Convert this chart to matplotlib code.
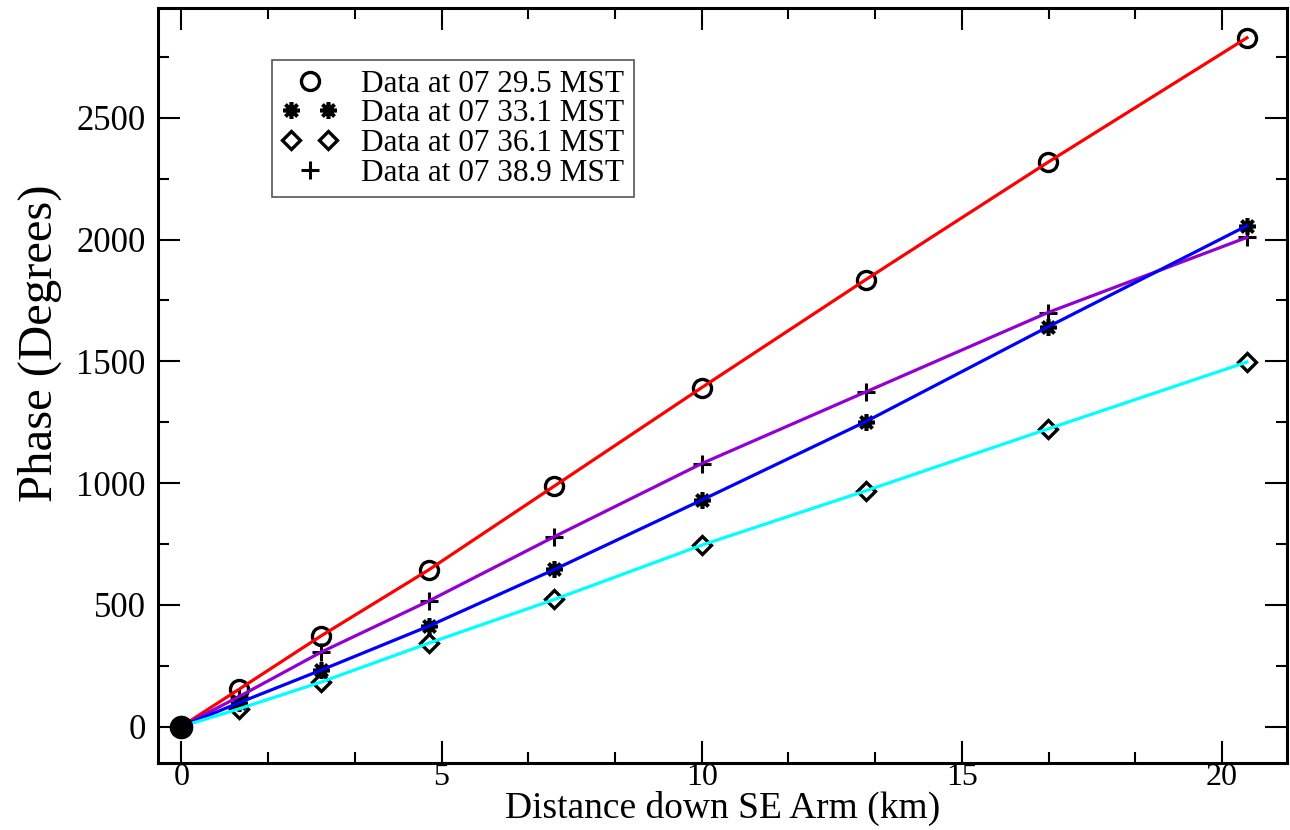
import matplotlib
matplotlib.use('Agg')
import matplotlib.pyplot as plt
from matplotlib.legend_handler import HandlerLine2D
from matplotlib.ticker import MultipleLocator

# distance down the SE arm (km) and measured phase (degrees)
dist = [0.0, 1.1, 2.69, 4.75, 7.17, 10.0, 13.15, 16.65, 20.48]
phase_295 = [0, 152, 373, 643, 988, 1392, 1835, 2317, 2829]
phase_331 = [0, 97, 232, 412, 645, 930, 1252, 1641, 2057]
phase_361 = [0, 72, 183, 342, 522, 745, 968, 1222, 1497]
phase_389 = [0, 122, 306, 515, 780, 1080, 1374, 1700, 2009]

labels = ['Data at 07 29.5 MST', 'Data at 07 33.1 MST',
          'Data at 07 36.1 MST', 'Data at 07 38.9 MST']

plt.rcParams['font.family'] = ['Liberation Serif', 'DejaVu Serif']

fig = plt.figure(figsize=(12.9, 8.3), dpi=100)
ax = fig.add_axes([0.1225, 0.0807, 0.8752, 0.9093])

# fitted/connecting lines
ax.plot(dist, phase_295, color='#ff0000', lw=2.3, zorder=3)
ax.plot(dist, phase_389, color='#9400d3', lw=2.3, zorder=3)
ax.plot(dist, phase_331, color='#0000ff', lw=2.3, zorder=3)
ax.plot(dist, phase_361, color='#00ffff', lw=2.3, zorder=3)

# markers
h1, = ax.plot(dist, phase_295, 'o', ms=13, mfc='none', mec='k', mew=2.4, zorder=2)
h2, = ax.plot(dist, phase_331, marker=(8, 2, 0), ls='none', ms=12, mec='k', mew=2.6, zorder=2)
h3, = ax.plot(dist, phase_361, 'D', ms=9, mfc='none', mec='k', mew=2.4, zorder=2)
h4, = ax.plot(dist, phase_389, '+', ms=13, mec='k', mew=2.2, zorder=2)
ax.plot(dist[:1], phase_295[:1], 'o', ms=16, mfc='k', mec='k', zorder=4)

ax.set_xlim(-0.45, 21.25)
ax.set_ylim(-150, 2950)
ax.xaxis.set_major_locator(MultipleLocator(5))
ax.xaxis.set_minor_locator(MultipleLocator(5 / 3))
ax.yaxis.set_major_locator(MultipleLocator(500))
ax.yaxis.set_minor_locator(MultipleLocator(250))
ax.tick_params(which='both', direction='in', top=True, right=True,
               labelsize=25, width=1.5)
ax.tick_params(axis='y', pad=9)
ax.tick_params(axis='x', pad=0, labelsize=23)
ax.tick_params(which='major', length=16)
ax.tick_params(which='minor', length=8)
for s in ax.spines.values():
    s.set_linewidth(2.2)

ax.set_xlabel('Distance down SE Arm (km)', fontsize=27, labelpad=-1)
ax.set_ylabel('Phase (Degrees)', fontsize=35)
ax.yaxis.set_label_coords(-0.085, 0.556)

leg = ax.legend([h1, h2, h3, h4], labels, loc='upper left',
                bbox_to_anchor=(0.101, 0.931), borderaxespad=0,
                numpoints=2, fontsize=22.5, fancybox=False, framealpha=1,
                edgecolor='#555555', handlelength=1.8, handletextpad=0.75,
                labelspacing=0.02, borderpad=0.3,
                handler_map={h1: HandlerLine2D(numpoints=1),
                             h4: HandlerLine2D(numpoints=1)})
leg.get_frame().set_linewidth(1.2)

fig.savefig('out.png', dpi=100)
